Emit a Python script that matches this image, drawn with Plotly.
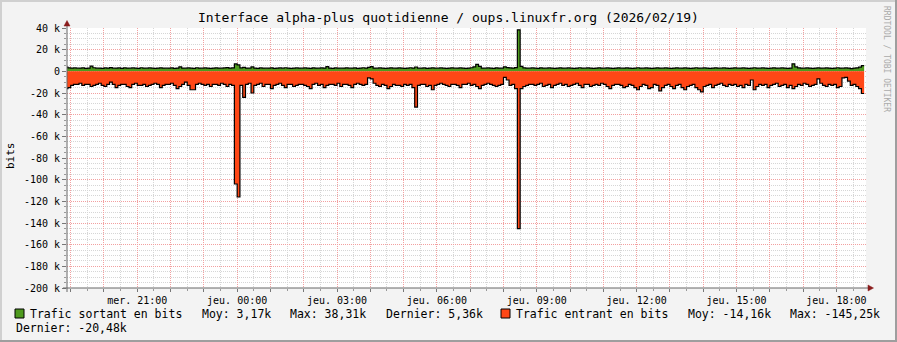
import plotly.graph_objects as go
from datetime import datetime, timedelta

# ---------------- data (kbits, 5-minute steps) ----------------
start_time = "2026-02-18 18:50"
step_minutes = 5

sortant = [
    3.8, 3.2, 3.0, 3.1, 2.9, 3.0, 3.2, 2.8, 3.0, 4.8, 3.3, 2.9,
    3.0, 2.8, 3.1, 3.0, 3.4, 2.9, 3.0, 3.1, 2.8, 3.2, 3.0, 2.9,
    3.1, 3.0, 2.8, 3.3, 3.0, 2.9, 3.1, 3.0, 2.7, 3.0, 3.2, 3.0,
    2.9, 3.0, 3.1, 2.8, 3.0, 4.2, 3.0, 2.9, 3.1, 3.0, 2.8, 3.3,
    3.0, 2.9, 3.1, 3.0, 2.8, 3.0, 3.2, 3.0, 2.9, 3.1, 3.4, 3.0,
    3.2, 6.8, 5.9, 3.1, 3.6, 3.0, 2.9, 4.1, 3.0, 2.8, 3.1, 3.0,
    2.9, 3.0, 3.2, 2.8, 3.0, 3.1, 2.9, 3.3, 3.0, 2.8, 3.0, 3.1,
    3.0, 2.9, 3.1, 3.0, 2.8, 3.2, 3.0, 2.9, 3.1, 3.0, 4.3, 3.0,
    2.8, 3.1, 3.0, 2.9, 3.0, 3.2, 2.9, 3.0, 3.1, 2.8, 3.0, 3.3,
    3.0, 3.6, 4.4, 3.0, 2.9, 3.1, 3.0, 2.8, 3.0, 3.2, 2.9, 3.0,
    3.1, 3.0, 2.8, 3.0, 3.3, 3.0, 4.0, 2.9, 3.0, 3.1, 2.8, 3.0,
    3.2, 3.0, 2.9, 3.1, 3.0, 2.8, 3.0, 3.2, 2.9, 3.0, 3.1, 3.0,
    2.8, 3.0, 3.3, 4.2, 6.4, 4.5, 3.0, 2.9, 3.1, 3.0, 2.8, 3.2,
    3.0, 2.9, 4.2, 3.5, 3.1, 3.0, 3.4, 38.31, 4.6, 3.2, 3.0, 2.9,
    3.1, 3.0, 2.8, 3.2, 3.0, 2.9, 3.1, 3.0, 2.8, 3.0, 3.2, 3.0,
    2.9, 3.1, 3.0, 2.8, 3.0, 3.3, 3.0, 2.9, 3.1, 3.0, 2.8, 3.0,
    3.2, 3.0, 2.9, 3.1, 3.0, 2.8, 3.0, 3.2, 2.9, 3.0, 3.1, 3.0,
    2.8, 3.0, 3.3, 3.0, 2.9, 3.1, 3.0, 2.8, 3.0, 3.2, 3.0, 2.9,
    3.1, 3.0, 2.8, 3.0, 3.2, 2.9, 3.0, 3.1, 3.0, 2.8, 3.0, 3.3,
    3.0, 2.9, 3.1, 3.0, 2.8, 3.0, 3.2, 3.0, 2.9, 3.1, 3.0, 2.8,
    3.0, 3.2, 2.9, 3.0, 3.1, 3.0, 2.8, 3.0, 3.3, 3.0, 2.9, 3.1,
    3.0, 2.8, 3.0, 3.2, 3.0, 2.9, 3.1, 3.0, 2.8, 3.0, 6.9, 4.1,
    3.2, 3.0, 2.9, 3.1, 3.0, 2.8, 3.0, 3.2, 3.0, 2.9, 3.1, 3.0,
    2.8, 3.0, 3.3, 3.0, 2.9, 3.1, 3.0, 2.5, 3.0, 3.2, 3.8, 5.36,
]

entrant = [
    -16, -15, -13, -12, -12, -11, -13, -12, -12, -14, -13, -12,
    -11, -13, -14, -12, -10, -12, -15, -13, -12, -12, -14, -15,
    -12, -11, -13, -13, -12, -14, -13, -12, -11, -12, -15, -13,
    -12, -12, -11, -13, -16, -14, -12, -10, -13, -17, -17, -12,
    -11, -12, -13, -12, -14, -12, -12, -13, -11, -12, -14, -12,
    -13, -104, -116, -13, -24, -12, -11, -20, -13, -12, -11, -14,
    -12, -12, -16, -13, -12, -11, -13, -15, -12, -12, -14, -13,
    -12, -12, -13, -14, -16, -12, -11, -13, -12, -15, -13, -12,
    -12, -13, -11, -14, -12, -12, -13, -15, -12, -11, -12, -13,
    -12, -6, -7, -11, -13, -14, -12, -13, -16, -14, -12, -13,
    -13, -14, -12, -13, -12, -15, -33, -13, -12, -12, -14, -13,
    -17, -13, -12, -11, -12, -13, -14, -12, -12, -13, -15, -12,
    -12, -11, -13, -12, -14, -16, -13, -12, -11, -12, -13, -14,
    -13, -12, -5.5, -8, -13, -12, -16, -145.25, -16, -14, -13, -12,
    -12, -13, -12, -11, -14, -13, -12, -15, -13, -12, -11, -13,
    -12, -14, -13, -12, -11, -13, -15, -12, -12, -14, -13, -12,
    -13, -11, -12, -14, -16, -13, -12, -12, -13, -15, -14, -12,
    -13, -15, -17, -14, -12, -13, -16, -15, -12, -13, -18, -15,
    -13, -12, -14, -16, -13, -12, -15, -17, -14, -13, -12, -15,
    -17, -19, -14, -13, -12, -15, -13, -12, -11, -13, -14, -12,
    -13, -12, -14, -13, -15, -12, -13, -8, -17, -14, -12, -13,
    -12, -15, -13, -12, -11, -14, -13, -12, -15, -13, -16, -14,
    -12, -13, -11, -12, -14, -13, -12, -7, -11, -13, -14, -12,
    -13, -12, -15, -14, -6, -5.5, -9, -13, -12, -14, -16, -20.48,
]

y_tick_values = [40, 20, 0, -20, -40, -60, -80, -100, -120, -140, -160, -180, -200]
y_tick_labels = ["40 k", "20 k", "0", "-20 k", "-40 k", "-60 k", "-80 k", "-100 k",
                 "-120 k", "-140 k", "-160 k", "-180 k", "-200 k"]

x_label_times = ["2026-02-18 21:00", "2026-02-19 00:00", "2026-02-19 03:00",
                 "2026-02-19 06:00", "2026-02-19 09:00", "2026-02-19 12:00",
                 "2026-02-19 15:00", "2026-02-19 18:00"]
x_labels = ["mer. 21:00", "jeu. 00:00", "jeu. 03:00", "jeu. 06:00",
            "jeu. 09:00", "jeu. 12:00", "jeu. 15:00", "jeu. 18:00"]

title_text = "Interface alpha-plus quotidienne / oups.linuxfr.org (2026/02/19)"
legend_out = ["Trafic sortant en bits", "Moy: 3,17k", "Max: 38,31k", "Dernier: 5,36k"]
legend_in = ["Trafic entrant en bits", "Moy: -14,16k", "Max: -145,25k", "Dernier: -20,48k"]

# ---------------- build ----------------
FONT = "DejaVu Sans Mono"
GREEN = "#4E9A1E"
ORANGE = "#FF4716"

t0 = datetime.strptime(start_time, "%Y-%m-%d %H:%M")
times = [t0 + timedelta(minutes=step_minutes * i) for i in range(len(sortant) + 1)]
out_y = sortant + [sortant[-1]]
in_y = entrant + [entrant[-1]]

x_start = datetime(2026, 2, 18, 18, 53, 20)
x_end = x_start + timedelta(hours=24)

fig = go.Figure()
fig.add_trace(go.Scatter(x=times, y=out_y, mode="lines", line_shape="hv",
                         fill="tozeroy", fillcolor=GREEN,
                         line=dict(color="#000000", width=1.2),
                         hoverinfo="skip", showlegend=False))
fig.add_trace(go.Scatter(x=times, y=in_y, mode="lines", line_shape="hv",
                         fill="tozeroy", fillcolor=ORANGE,
                         line=dict(color="#000000", width=1.2),
                         hoverinfo="skip", showlegend=False))

# hourly major ticks, labelled every 3 hours
label_map = {datetime.strptime(s, "%Y-%m-%d %H:%M"): l for s, l in zip(x_label_times, x_labels)}
hour_ticks = [datetime(2026, 2, 18, 19, 0) + timedelta(hours=h) for h in range(24)]
hour_text = [label_map.get(h, "") for h in hour_ticks]

L, R, T, B = 67, 31, 28, 54
W, H = 897, 342
PW, PH = W - L - R, H - T - B


def px(x):
    return (x - L) / PW


def py(y):
    return (H - B - y) / PH


MAJOR = "#F2A0A0"
MINOR = "#D6D6D6"

fig.update_xaxes(
    type="date", range=[x_start, x_end],
    tickmode="array", tickvals=hour_ticks, ticktext=hour_text,
    showgrid=True, gridcolor=MAJOR, griddash="1px,1px", gridwidth=1,
    ticks="outside", ticklen=3, tickcolor="#777777",
    tickfont=dict(family=FONT, size=10, color="#000000"),
    showline=False, zeroline=False,
    minor=dict(dtick=1800000, tick0="2026-02-18 18:30", showgrid=True,
               gridcolor=MINOR, griddash="1px,1px", gridwidth=1,
               ticks="outside", ticklen=2, tickcolor="#999999"),
)
fig.update_yaxes(
    range=[-200, 40], tickmode="array", tickvals=y_tick_values, ticktext=y_tick_labels,
    showgrid=True, gridcolor=MAJOR, griddash="1px,1px", gridwidth=1,
    ticks="outside", ticklen=4, tickcolor="#777777",
    tickfont=dict(family=FONT, size=10, color="#000000"),
    showline=False, zeroline=False,
    minor=dict(dtick=5, tick0=0, showgrid=True, gridcolor=MINOR,
               griddash="1px,1px", gridwidth=1,
               ticks="outside", ticklen=2, tickcolor="#999999"),
)

shapes = []
# axes lines
shapes.append(dict(type="line", xref="paper", yref="paper", x0=px(67), x1=px(67),
                   y0=py(292), y1=py(24), line=dict(color="#666666", width=1)))
shapes.append(dict(type="line", xref="paper", yref="paper", x0=px(63), x1=px(869),
                   y0=py(288), y1=py(288), line=dict(color="#666666", width=1)))
# arrows
shapes.append(dict(type="path", xref="paper", yref="paper",
                   path=f"M {px(64)} {py(26)} L {px(70)} {py(26)} L {px(67)} {py(20.5)} Z",
                   fillcolor="#8B1C1C", line=dict(color="#8B1C1C", width=0.5)))
shapes.append(dict(type="path", xref="paper", yref="paper",
                   path=f"M {px(868)} {py(285)} L {px(868)} {py(291)} L {px(873.5)} {py(288)} Z",
                   fillcolor="#8B1C1C", line=dict(color="#8B1C1C", width=0.5)))
# outer border
shapes.append(dict(type="line", xref="paper", yref="paper", x0=px(0), x1=px(W),
                   y0=py(1), y1=py(1), line=dict(color="#D0D0D0", width=2)))
shapes.append(dict(type="line", xref="paper", yref="paper", x0=px(1), x1=px(1),
                   y0=py(0), y1=py(H), line=dict(color="#D0D0D0", width=2)))
shapes.append(dict(type="line", xref="paper", yref="paper", x0=px(0), x1=px(W),
                   y0=py(H - 1), y1=py(H - 1), line=dict(color="#9E9E9E", width=2)))
shapes.append(dict(type="line", xref="paper", yref="paper", x0=px(W - 1), x1=px(W - 1),
                   y0=py(0), y1=py(H), line=dict(color="#9E9E9E", width=2)))
# legend colour boxes
shapes.append(dict(type="rect", xref="paper", yref="paper", x0=px(15), x1=px(24),
                   y0=py(318), y1=py(309), fillcolor=GREEN, line=dict(color="#000000", width=1)))
shapes.append(dict(type="rect", xref="paper", yref="paper", x0=px(501), x1=px(510),
                   y0=py(318), y1=py(309), fillcolor=ORANGE, line=dict(color="#000000", width=1)))

ann = []


def text(x, y, s, size=11.5, color="#000000", anchor="left", angle=0):
    ann.append(dict(xref="paper", yref="paper", x=px(x), y=py(y), text=s,
                    showarrow=False, xanchor=anchor, yanchor="middle",
                    textangle=angle, borderpad=0,
                    font=dict(family=FONT, size=size, color=color)))


text(448, 18, title_text, size=13, anchor="center")
text(10, 156, "bits", size=11, anchor="center", angle=-90)
text(887, 59, "RRDTOOL / TOBI OETIKER", size=8, color="#AAAAAA", anchor="center", angle=90)

line1_x = [29, 201, 289, 385]
for x, s in zip(line1_x, legend_out):
    text(x, 314, s)
line1b_x = [515, 687, 789]
for x, s in zip(line1b_x, legend_in[:3]):
    text(x, 314, s)
text(15, 328, legend_in[3])

fig.update_layout(
    width=W, height=H, autosize=False,
    margin=dict(l=L, r=R, t=T, b=B, pad=0),
    paper_bgcolor="#F3F3F3", plot_bgcolor="#FFFFFF",
    shapes=shapes, annotations=ann, showlegend=False,
)

fig.write_html("out.html")
